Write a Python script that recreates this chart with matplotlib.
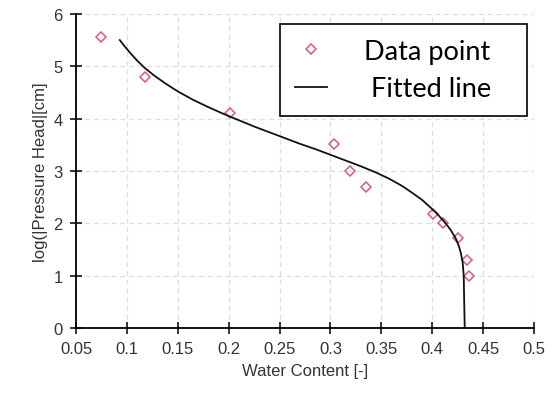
import numpy as np
import matplotlib.pyplot as plt

# measured points
theta = [0.075, 0.118, 0.201, 0.304, 0.319, 0.335, 0.401, 0.411, 0.425, 0.434, 0.436]
logh = [5.55, 4.8, 4.1, 3.52, 3.0, 2.7, 2.18, 2.0, 1.72, 1.3, 1.0]

# fitted curve
fit_theta = [0.093, 0.097, 0.103, 0.110, 0.118, 0.127, 0.138, 0.150, 0.165, 0.180,
             0.195, 0.210, 0.225, 0.240, 0.255, 0.270, 0.285, 0.300, 0.315, 0.330,
             0.345, 0.358, 0.370, 0.380, 0.390, 0.398, 0.405, 0.412, 0.418, 0.423,
             0.426, 0.428, 0.430, 0.431, 0.4315, 0.432]
fit_logh = [5.50, 5.40, 5.26, 5.11, 4.96, 4.82, 4.67, 4.52, 4.36, 4.22,
            4.09, 3.97, 3.85, 3.74, 3.63, 3.52, 3.42, 3.31, 3.20, 3.09,
            2.97, 2.85, 2.72, 2.59, 2.45, 2.31, 2.18, 2.03, 1.88, 1.72,
            1.58, 1.45, 1.25, 1.0, 0.5, 0.0]

xticks = [0.05, 0.1, 0.15, 0.2, 0.25, 0.3, 0.35, 0.4, 0.45, 0.5]
xticklabels = ['0.05', '0.1', '0.15', '0.2', '0.25', '0.3', '0.35', '0.4', '0.45', '0.5']

plt.rcParams['font.family'] = ['Liberation Sans', 'DejaVu Sans']

fig = plt.figure(figsize=(5.55, 4.14), dpi=100)
ax = fig.add_axes([0.137, 0.205, 0.825, 0.759])

ax.plot(theta, logh, linestyle='none', marker='D', markersize=5.5,
        markerfacecolor='none', markeredgecolor='#e2587a', markeredgewidth=1.1,
        label='Data point   ')
ax.plot(fit_theta, fit_logh, color='#111111', lw=1.3, label=' Fitted line   ')

ax.set_xlim(0.05, 0.5)
ax.set_ylim(0, 6)
ax.set_xticks(xticks)
ax.set_xticklabels(xticklabels)
ax.set_yticks(range(0, 7))

ax.grid(True, linestyle=(0, (4, 3)), color='#dddddd', lw=0.9)
ax.set_axisbelow(True)
for s in ['top', 'right']:
    ax.spines[s].set_visible(False)
for s in ['left', 'bottom']:
    ax.spines[s].set_linewidth(1.3)
ax.tick_params(direction='inout', length=9, width=1.1, labelsize=12,
               labelcolor='#333333', pad=5)

ax.set_xlabel('Water Content [-]', fontsize=12, color='#333333', labelpad=5)
ax.set_ylabel('log(|Pressure Head|[cm]', fontsize=12, color='#333333', labelpad=4)

leg = ax.legend(loc='upper right', bbox_to_anchor=(0.985, 0.968),
                prop={'family': 'Lato', 'size': 19.5}, frameon=True,
                fancybox=False, edgecolor='black', framealpha=1,
                handlelength=1.2, borderpad=0.55, labelspacing=0.45, handletextpad=1.35,
                borderaxespad=0)
leg.get_frame().set_linewidth(1.2)

fig.savefig('out.png', dpi=100)
